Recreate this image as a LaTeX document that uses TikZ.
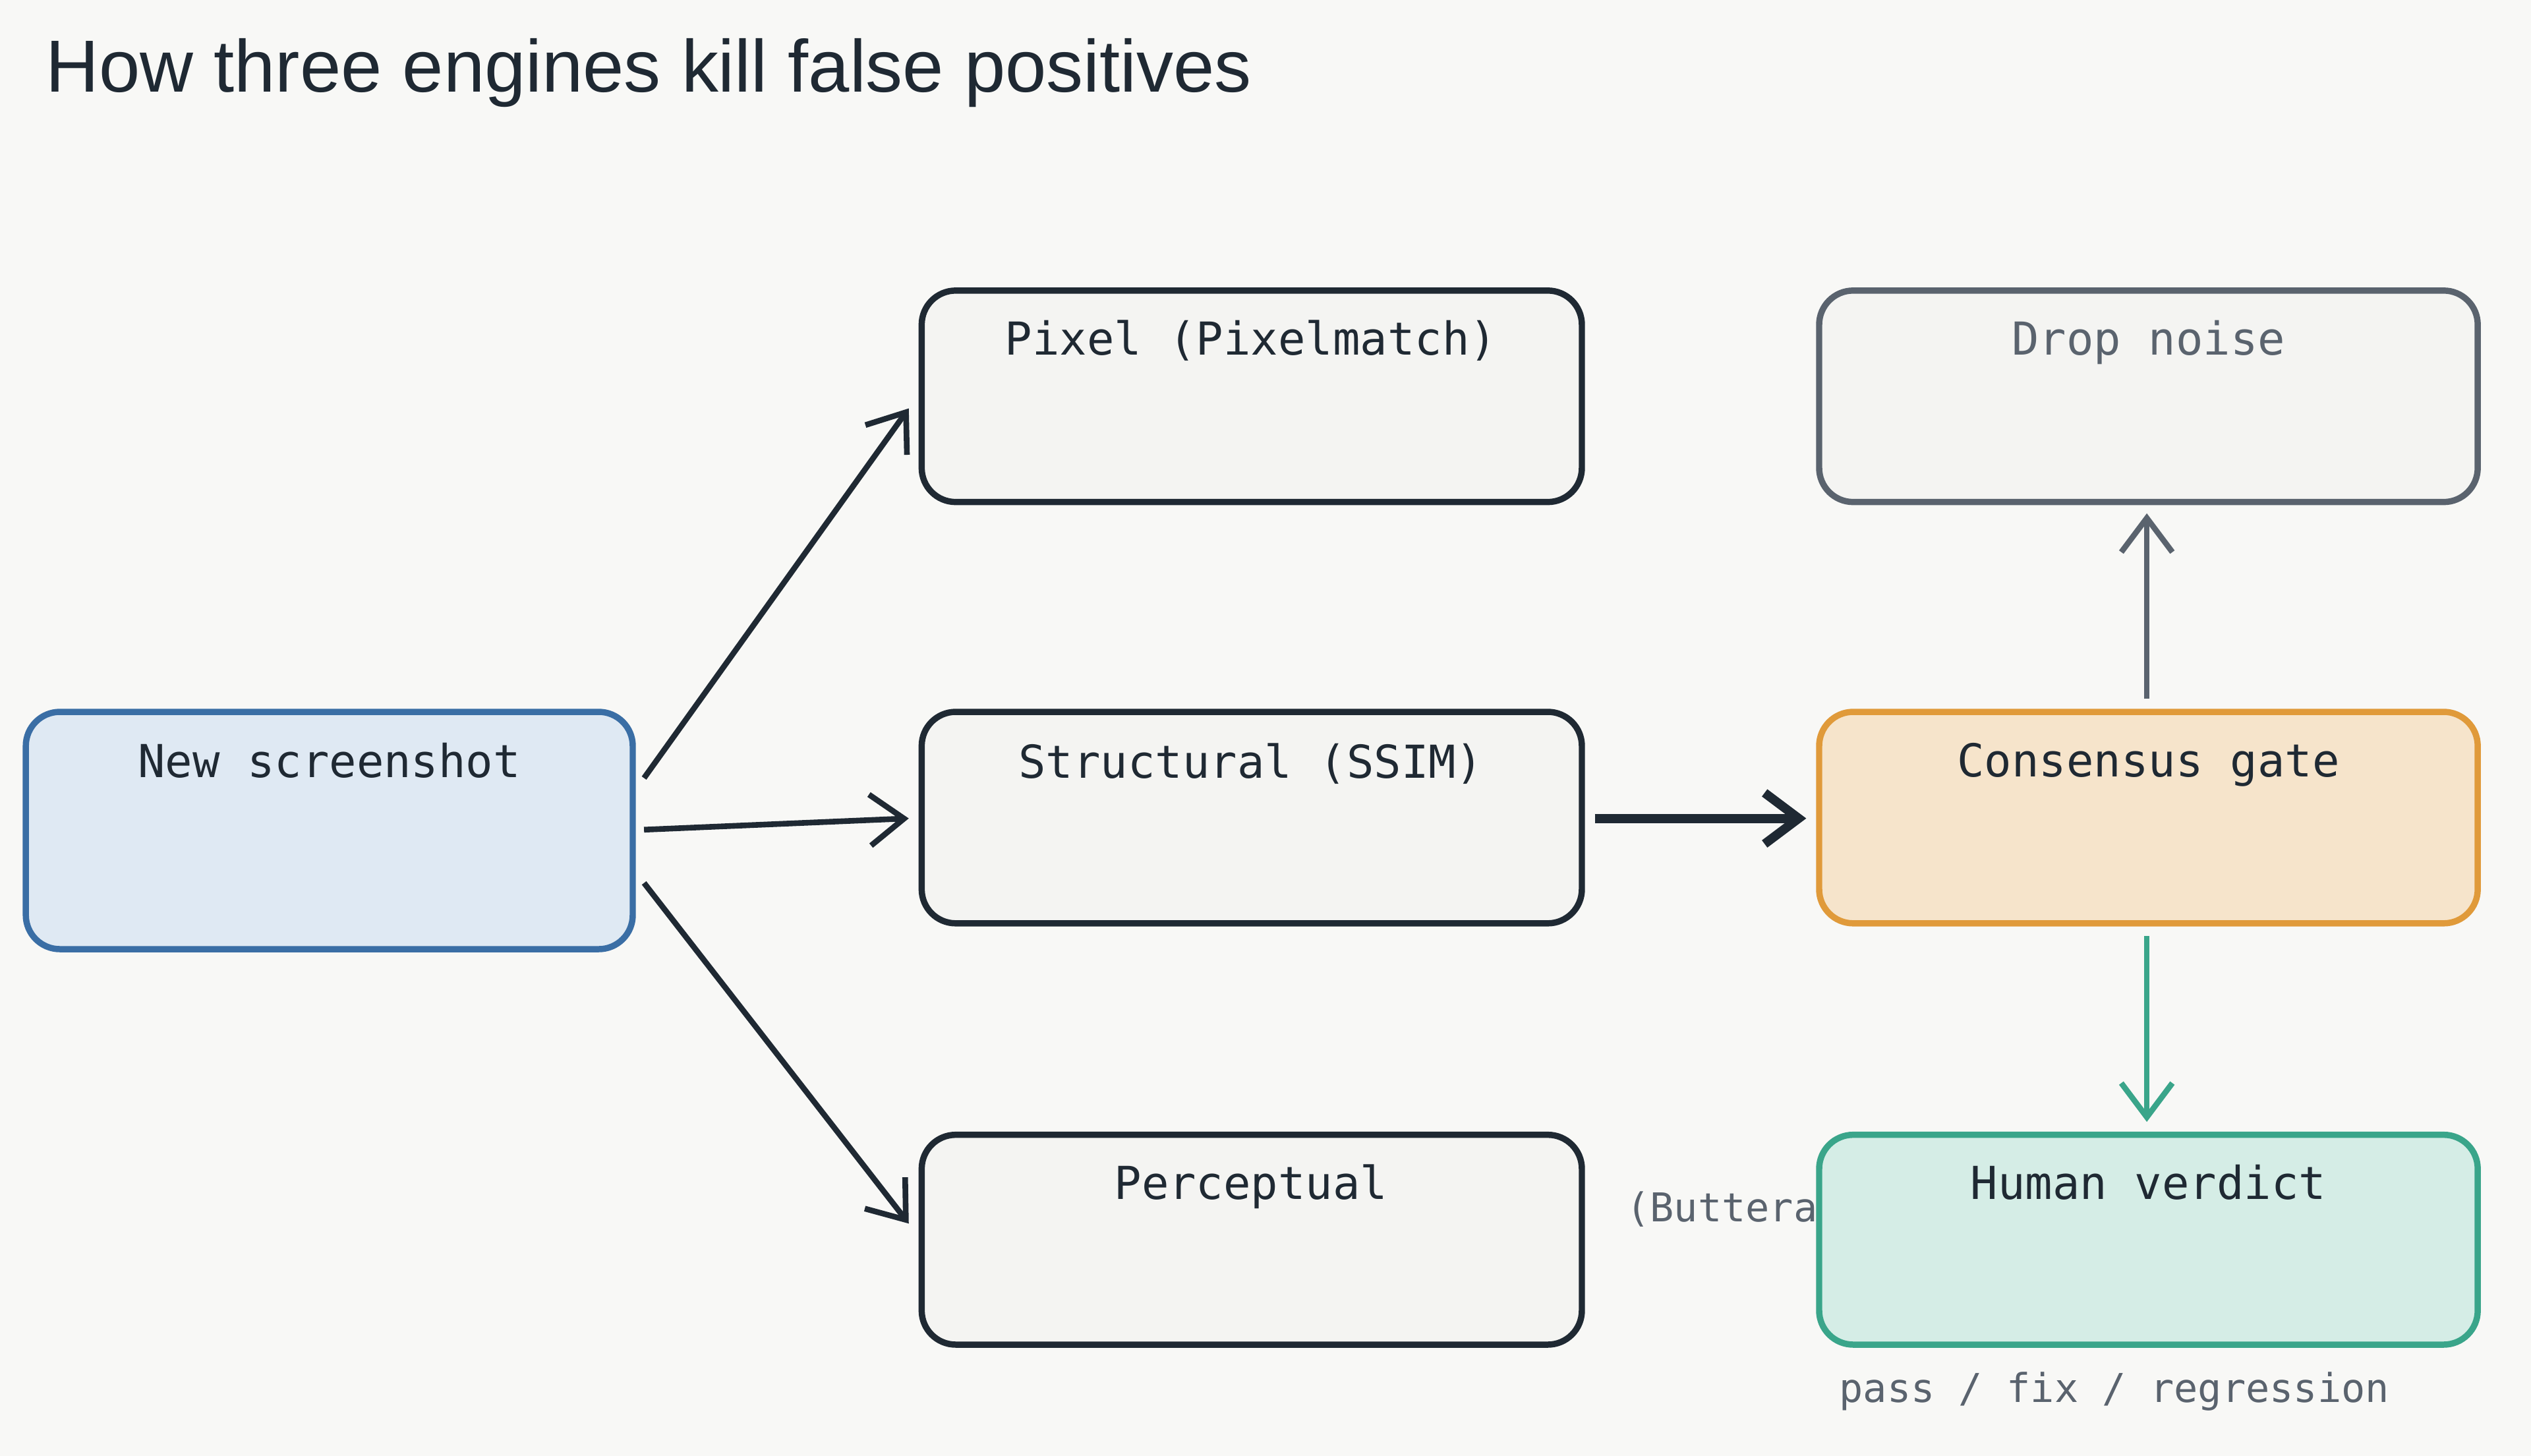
\documentclass[tikz,border=0pt]{standalone}
\usepackage{fontspec}
\setmainfont{DejaVu Sans Mono}
\newfontfamily\titlefont{Liberation Sans}
\usetikzlibrary{arrows.meta}
\definecolor{bg}{HTML}{F8F8F6}
\definecolor{ink}{HTML}{1F2933}
\definecolor{grayink}{HTML}{5A636E}
\definecolor{bluefill}{HTML}{DFE9F3}
\definecolor{bluestroke}{HTML}{3A6EA5}
\definecolor{boxfill}{HTML}{F4F4F2}
\definecolor{orfill}{HTML}{F6E4CB}
\definecolor{orstroke}{HTML}{E09A3A}
\definecolor{grfill}{HTML}{D5EDE6}
\definecolor{grstroke}{HTML}{3AA58A}
\tikzset{
 box/.style={draw=ink,fill=boxfill,line width=1.1pt,rounded corners=6pt},
 lbl/.style={font=\fontsize{8}{9}\selectfont,text=ink,anchor=north},
 arr/.style={-{Straight Barb[length=6pt,width=9pt]},line width=1pt,draw=ink},
}
\begin{document}
\begin{tikzpicture}[x=0.01cm,y=-0.01cm]
\fill[bg] (0,0) rectangle (1568,902);
\useasboundingbox (0,0) rectangle (1568,902);
\node[anchor=west,font=\titlefont\fontsize{13}{14}\selectfont,text=ink] (title) at (16,45) {How three engines kill false positives};
% Butteraugli text behind human box
\node[anchor=west,font=\fontsize{7}{8}\selectfont,text=grayink] (butt) at (995,750) {(Butteraugli)};
\draw[box,draw=bluestroke,fill=bluefill] (16,441) rectangle (392,588);
\coordinate (newc) at (204,514);
\node[lbl] (newl) at (204,448) {New screenshot};
\draw[box] (571,180) rectangle (980,311);
\node[lbl] (pixl) at (775,186) {Pixel (Pixelmatch)};
\draw[box] (571,441) rectangle (980,572);
\node[lbl] (strl) at (775,448) {Structural (SSIM)};
\draw[box] (571,703) rectangle (980,833);
\node[lbl] (perl) at (775,709) {Perceptual};
\draw[box,draw=grayink] (1127,180) rectangle (1535,311);
\node[lbl,text=grayink] (dropl) at (1331,186) {Drop noise};
\draw[box,draw=orstroke,fill=orfill] (1127,441) rectangle (1535,572);
\node[lbl] (conl) at (1331,448) {Consensus gate};
\draw[box,draw=grstroke,fill=grfill] (1127,703) rectangle (1535,833);
\node[lbl] (huml) at (1331,709) {Human verdict};
\node[anchor=west,font=\fontsize{7}{8}\selectfont,text=grayink] (pass) at (1127,862) {pass / fix / regression};
\coordinate (a1) at (399,482); \coordinate (b1) at (563,253);
\coordinate (a2) at (399,514); \coordinate (b2) at (563,507);
\coordinate (a3) at (399,547); \coordinate (b3) at (563,758);
\draw[arr] (a1) -- (b1);
\draw[arr] (a2) -- (b2);
\draw[arr] (a3) -- (b3);
\coordinate (s1) at (988,507); \coordinate (c1) at (1119,507);
\draw[arr,line width=1.6pt] (s1) -- (c1);
\coordinate (u1) at (1330,433); \coordinate (u2) at (1330,318);
\draw[arr,draw=grayink] (u1) -- (u2);
\coordinate (d1) at (1330,580); \coordinate (d2) at (1330,695);
\draw[arr,draw=grstroke] (d1) -- (d2);
\end{tikzpicture}
\end{document}
